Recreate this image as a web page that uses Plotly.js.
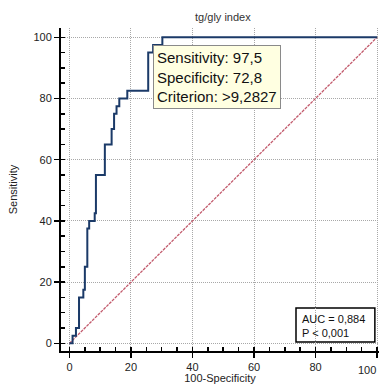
<!DOCTYPE html>
<html>
<head>
<meta charset="utf-8">
<script src="https://cdn.plot.ly/plotly-3.0.1.min.js"></script>
<style>
html,body{margin:0;padding:0;background:#fff;}
#chart{width:379px;height:384px;}
</style>
</head>
<body>
<div id="chart"></div>
<script>
// ROC curve corner points (100-Specificity, Sensitivity), drawn as steps
const fpr = [0, 1.0, 2.1, 3.1, 4.5, 5.0, 5.8, 6.4, 8.2, 8.6, 11.5, 13.7, 14.5, 15.3, 16.2, 18.8, 25.6, 27.2, 30.2, 100];
const sens = [0, 2.5, 5, 15, 17.5, 25, 37.5, 40, 42.5, 55, 65, 70, 75, 77.5, 80, 82.5, 95, 97.5, 100, 100];
const diagX = [0, 100];
const diagY = [0, 100];
const tickVals = [0, 20, 40, 60, 80, 100];
const lastTick = "100";
const criterion = {fpr: 27.2, sens: 97.5};
const labelLines = ["Sensitivity: 97,5", "Specificity: 72,8", "Criterion: >9,2827"];
const statLines = ["AUC = 0,884", "P < 0,001"];
const titleText = "tg/gly index";
const xTitle = "100-Specificity";
const yTitle = "Sensitivity";

const FONT = "Liberation Sans, Arial, sans-serif";

const traces = [
  {x: diagX, y: diagY, mode: "lines", type: "scatter",
   line: {color: "#c25a6c", width: 1.3, dash: "3px,1px"}, hoverinfo: "skip"},
  {x: fpr, y: sens, mode: "lines", type: "scatter",
   line: {color: "#1b3a68", width: 2, shape: "hv"}, hoverinfo: "skip"}
];

const axisCommon = {
  tickvals: tickVals,
  ticks: "outside", ticklen: 5, tickwidth: 1.5, tickcolor: "#000",
  showline: true, linecolor: "#000", linewidth: 2,
  showgrid: true, gridcolor: "#a8a8a8", griddash: "1px,1px", gridwidth: 1,
  zeroline: false,
  tickfont: {family: FONT, size: 11, color: "#222"},
  minor: {dtick: 5, ticks: "inside", ticklen: 4, tickwidth: 1.5, tickcolor: "#000", showgrid: false},
  fixedrange: true
};

const layout = {
  width: 379, height: 384,
  margin: {l: 61, r: 0, t: 28, b: 33},
  paper_bgcolor: "#fff", plot_bgcolor: "#fff",
  showlegend: false,
  title: {text: titleText, font: {family: FONT, size: 11, color: "#333"},
          x: 0.509, xref: "paper", y: 0.956, yref: "container", xanchor: "center", yanchor: "middle"},
  xaxis: Object.assign({}, axisCommon, {
    range: [-2.76, 100.65],
    title: {text: xTitle, font: {family: FONT, size: 11, color: "#222"}, standoff: 9}
  }),
  yaxis: Object.assign({}, axisCommon, {
    range: [-2.52, 103.04],
    title: {text: yTitle, font: {family: FONT, size: 11, color: "#222"}, standoff: 14}
  }),
  annotations: [
    {x: criterion.fpr, y: criterion.sens, xref: "x", yref: "y",
     xanchor: "left", yanchor: "top", showarrow: false, align: "left",
     text: labelLines.join("<br>"),
     font: {family: FONT, size: 15, color: "#111"},
     bgcolor: "#ffffe1", bordercolor: "#8a8a8a", borderwidth: 1, borderpad: 3},
    {x: 0.753, y: 0.076, xref: "paper", yref: "paper",
     xanchor: "left", yanchor: "middle", showarrow: false, align: "left",
     text: statLines.join("<br>"),
     font: {family: FONT, size: 11, color: "#111"}},
    {x: 1, y: -0.01, xref: "paper", yref: "paper",
     xanchor: "right", yanchor: "top", showarrow: false, yshift: -8, xshift: -1,
     text: lastTick, font: {family: FONT, size: 11, color: "#222"}}
  ],
  shapes: [
    {type: "rect", xref: "paper", yref: "paper", x0: 0.739, x1: 0.987, y0: 0.028, y1: 0.133,
     line: {color: "#000", width: 1.5}, fillcolor: "rgba(255,255,255,1)", layer: "below"}
  ]
};

Plotly.newPlot("chart", traces, layout, {displayModeBar: false, staticPlot: true});
</script>
</body>
</html>
